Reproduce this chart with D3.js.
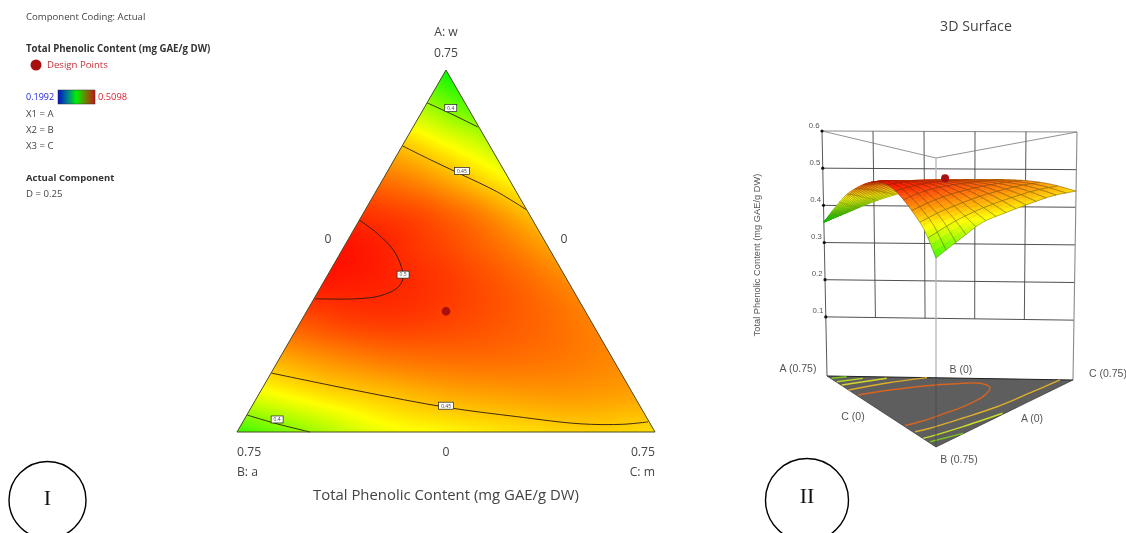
<!DOCTYPE html>
<html><head><meta charset="utf-8">
<script src="https://cdn.jsdelivr.net/npm/d3@7"></script>
<style>
html,body{margin:0;padding:0;background:#fff;overflow:hidden}
svg{display:block;filter:blur(.3px)}
text{font-family:"Open Sans",sans-serif;fill:#444}
.arial{font-family:"Liberation Sans",Arial,sans-serif;fill:#555}
.serif{font-family:"Liberation Serif",serif;fill:#111}
</style></head><body>
<svg id="chart" width="1126" height="533"></svg>
<script>
// ---------- data ----------
const rowA = [0,.075,.15,.225,.3,.375,.45,.525,.6,.675,.75];     // component A of each row
const colT = [0,1/6,2/6,3/6,4/6,5/6,1];                          // C/(B+C) across a row
const response = [                                               // Total Phenolic Content
 [.372,.399,.425,.434,.441,.446,.443],
 [.425,.440,.450,.458,.462,.464,.461],
 [.458,.468,.475,.478,.478,.475,.470],
 [.485,.492,.494,.491,.486,.480,.472],
 [.504,.503,.500,.495,.488,.480,.470],
 [.508,.504,.497,.491,.483,.474,.463],
 [.497,.494,.490,.483,.475,.464,.452],
 [.476,.472,.466,.459,.451,.442,.433],
 [.447,.442,.436,.430,.424,.418,.411],
 [.404,.400,.396,.392,.388,.385,.383],
 [.355,.355,.355,.355,.355,.355,.355]];
const colorLevels = [.1992,.354,.432,.5098];
const colorRange  = ["#0000ff","#00f800","#ffff00","#ff0a00"];
// contour lines as [A, C] composition pairs
const contours2D = [
 {level:"0.4", pts:[[.682,0],[.659,.055],[.632,.116]]},
 {level:"0.45",pts:[[.593,0],[.564,.065],[.533,.137],[.498,.217],[.461,.288]]},
 {level:"0.5", pts:[[.439,0],[.412,.045],[.377,.092],[.342,.124],[.318,.139],[.298,.138],[.282,.115],[.276,.077],[.276,.002]]},
 {level:"0.45",pts:[[.122,.001],[.085,.176],[.051,.351],[.032,.485],[.017,.607],[.016,.685],[.021,.727]]},
 {level:"0.4", pts:[[.035,.001],[.017,.063],[0,.131]]}];
const contourLabels = [["0.4",.671,.048],["0.45",.541,.133],["0.5",.326,.135],["0.45",.0545,.348],["0.4",.026,.059]];
const designPoint = {a:.25,b:.25,c:.25,z:.504};
// floor contours as [B, C] composition pairs
const floorContours = [
 {color:"#7cc420",pts:[[.024,.004],[.004,.058]]},
 {color:"#b6d822",pts:[[.060,.003],[.019,.101]]},
 {color:"#d6d62e",pts:[[.095,.003],[.014,.176]]},
 {color:"#dcae2a",pts:[[.148,0],[.065,.154],[0,.305]]},
 {color:"#d8641f",pts:[[.200,.007],[.141,.130],[.0875,.265],[.0605,.369],[.052,.443],[.094,.455],[.178,.403],[.290,.298],[.403,.166],[.479,.071],[.525,.005]]},
 {color:"#dcae2a",pts:[[.588,.008],[.548,.071],[.431,.224],[.303,.384],[.148,.553],[.002,.709]]},
 {color:"#c8dc28",pts:[[.658,.002],[.639,.031],[.525,.182],[.373,.370]]},
 {color:"#7cc420",pts:[[.694,.007],[.597,.150]]}];
const zTicks = [.1,.2,.3,.4,.5,.6];
const wallFractions = [.2,.4,.6,.8];
const legendLines = ["X1 = A","X2 = B","X3 = C"];
// ---------- scales ----------
const TOTAL=.75;
const color=d3.scaleLinear().domain(colorLevels).range(colorRange).clamp(true);
const xT=d3.scaleLinear([0,1],[237,655]);
const yT=d3.scaleLinear([0,TOTAL],[432,70]);
const px=(a,c)=>[xT((c+a/2)/TOTAL),yT(a)];
const rowIdx=d3.scaleLinear(rowA,rowA.map((_,i)=>i));
const colIdx=d3.scaleLinear(colT,colT.map((_,i)=>i));
function cr(p0,p1,p2,p3,u){return .5*(2*p1+(p2-p0)*u+(2*p0-5*p1+4*p2-p3)*u*u+(3*p1-p0-3*p2+p3)*u*u*u);}
function spline(vals,f){const n=vals.length-1;f=Math.max(0,Math.min(n,f));const i=Math.min(n-1,Math.floor(f));
 const g=k=>vals[Math.max(0,Math.min(n,k))];
 const p0=i>0?g(i-1):2*g(0)-g(1),p3=i<n-1?g(i+2):2*g(n)-g(n-1);
 return cr(p0,g(i),g(i+1),p3,f-i);}
function field(a,t){const ri=rowIdx(Math.max(0,Math.min(TOTAL,a))),ci=colIdx(Math.max(0,Math.min(1,t)));
 const row=d3.range(rowA.length).map(r=>spline(response[r],ci));
 return spline(row,ri);}
// ---------- page ----------
const svg=d3.select("#chart");
const defs=svg.append("defs");
// ---------- ternary heat map ----------
const cv=document.createElement("canvas");cv.width=440;cv.height=380;
const ctx=cv.getContext("2d"),img=ctx.createImageData(440,380);
for(let j=0;j<380;j++)for(let i=0;i<440;i++){
 const X=i+225.5,Y=j+60.5,a=yT.invert(Y),c=xT.invert(X)*TOTAL-a/2,b=TOTAL-a-c;
 if(a<-.02||b<-.03||c<-.03)continue;
 const s=Math.max(1e-6,b+c),t=Math.max(0,Math.min(1,c/s));
 const col=d3.rgb(color(field(a,t))),k=(j*440+i)*4;
 img.data[k]=col.r;img.data[k+1]=col.g;img.data[k+2]=col.b;img.data[k+3]=255;}
ctx.putImageData(img,0,0);
const tri=[px(TOTAL,0),px(0,0),px(0,TOTAL)];
defs.append("clipPath").attr("id","triClip").append("polygon").attr("points",tri.join(" "));
svg.append("image").attr("x",225).attr("y",60).attr("width",440).attr("height",380)
 .attr("href",cv.toDataURL()).attr("clip-path","url(#triClip)");
const line2D=d3.line(d=>px(d[0],d[1])[0],d=>px(d[0],d[1])[1]).curve(d3.curveCatmullRom);
svg.append("g").selectAll("path").data(contours2D).join("path")
 .attr("d",d=>line2D(d.pts)).attr("fill","none").attr("stroke","#2a1a10").attr("stroke-width",.9);
svg.append("polygon").attr("points",tri.join(" ")).attr("fill","none").attr("stroke","#4a4a20").attr("stroke-width",1);
const lab=svg.append("g").selectAll("g").data(contourLabels).join("g")
 .attr("transform",d=>`translate(${px(d[1],d[2])})`);
const labW=d=>d[0].length>3?15:12;
lab.append("rect").attr("x",d=>-labW(d)/2).attr("y",-3.5).attr("width",labW).attr("height",7)
 .attr("fill","#fff").attr("stroke","#222").attr("stroke-width",.7);
lab.append("text").attr("text-anchor","middle").attr("y",1.8).attr("font-size",5).text(d=>d[0]);
const dp=px(designPoint.a,designPoint.c);
svg.append("circle").attr("cx",dp[0]).attr("cy",dp[1]).attr("r",4.3).attr("fill","#a81010");
const T=(x,y,s,size,anchor="start",cls=null,weight=null,fill=null)=>{
 const e=svg.append("text").attr("x",x).attr("y",y).attr("font-size",size).attr("text-anchor",anchor).text(s);
 if(cls)e.attr("class",cls);if(weight)e.attr("font-weight",weight);if(fill)e.style("fill",fill);return e;};
const F=12.2;
T(446,36,"A: w",F,"middle");T(446,57,"0.75",F,"middle");
T(328,243,"0",F,"middle");T(564,243,"0",F,"middle");
T(237,456,"0.75",F);T(446,456,"0",F,"middle");T(655,456,"0.75",F,"end");
T(237,476,"B: a",F);T(655,476,"C: m",F,"end");
T(446,500,"Total Phenolic Content (mg GAE/g DW)",14.9,"middle");
// ---------- legend ----------
T(26,20,"Component Coding: Actual",9.6);
T(26,52,"Total Phenolic Content (mg GAE/g DW)",9.7,"start",null,700,"#333");
svg.append("circle").attr("cx",36).attr("cy",65).attr("r",5.5).attr("fill","#a81010");
T(47,68,"Design Points",9.6,"start",null,null,"#c0303a");
const grad=defs.append("linearGradient").attr("id","barGrad");
[[0,"#0010c8"],[.25,"#007c90"],[.5,"#00f000"],[.75,"#6e8000"],[1,"#c81414"]].forEach(s=>grad.append("stop").attr("offset",s[0]).attr("stop-color",s[1]));
svg.append("rect").attr("x",58).attr("y",90).attr("width",37).attr("height",14).attr("fill","url(#barGrad)").attr("stroke","#333").attr("stroke-width",.5);
T(26,100,colorLevels[0].toFixed(4),9,"start",null,null,"#2020e0");
T(98,100,colorLevels[3].toFixed(4),9.3,"start",null,null,"#e02030");
legendLines.forEach((s,i)=>T(26,117+16*i,s,9.6));
T(26,181,"Actual Component",9.5,"start",null,700,"#333");
T(26,197,"D = 0.25",9.6);
// ---------- 3D projection ----------
const floorC={A:[827,376],B:[936,447],C:[1073,380]},topC={A:[822,131],B:[936,158],C:[1077,132]};
const zS=d3.scaleLinear([-.059,.6],[0,1]);
function proj(a,b,c,z){const s=zS(z),p=[0,1].map(k=>{
  const f=(a*floorC.A[k]+b*floorC.B[k]+c*floorC.C[k])/TOTAL,u=(a*topC.A[k]+b*topC.B[k]+c*topC.C[k])/TOTAL;
  return f*(1-s)+u*s;});return p;}
const g3=svg.append("g");
const seg=(p,q,col,w)=>g3.append("line").attr("x1",p[0]).attr("y1",p[1]).attr("x2",q[0]).attr("y2",q[1]).attr("stroke",col).attr("stroke-width",w);
const AC=f=>[TOTAL*(1-f),0,TOTAL*f];
// wall
zTicks.forEach(z=>seg(proj(...AC(0),z),proj(...AC(1),z),z==.6?"#8a8a8a":"#3c3c3c",z==.6?1.1:.9));
wallFractions.forEach(f=>seg(proj(...AC(f),.1),proj(...AC(f),.6),"#444",.9));
seg(proj(...AC(0),-.059),proj(...AC(0),.6),"#444",.9);
seg(proj(...AC(1),-.059),proj(...AC(1),.6),"#8a8a8a",1.1);
seg(proj(TOTAL,0,0,.6),proj(0,TOTAL,0,.6),"#777",.8);
seg(proj(0,TOTAL,0,.6),proj(0,0,TOTAL,.6),"#777",.8);
seg(proj(0,TOTAL,0,-.059),proj(0,TOTAL,0,.6),"#bbb",1.4);
// floor
const fl=[proj(TOTAL,0,0,-.059),proj(0,TOTAL,0,-.059),proj(0,0,TOTAL,-.059)];
g3.append("polygon").attr("points",fl.join(" ")).attr("fill","#5e5e5e");
seg(fl[0],fl[2],"#222",1);seg(fl[0],fl[1],"#333",.7);seg(fl[1],fl[2],"#333",.7);
const floorLine=d3.line(d=>proj(TOTAL-d[0]-d[1],d[0],d[1],-.059)[0],d=>proj(TOTAL-d[0]-d[1],d[0],d[1],-.059)[1]).curve(d3.curveCatmullRom);
g3.selectAll("path.fc").data(floorContours).join("path").attr("class","fc").attr("d",d=>floorLine(d.pts))
 .attr("fill","none").attr("stroke",d=>d.color).attr("stroke-width",1.4);
seg(fl[1],[fl[1][0],fl[0][1]+1],"#444",.7);
// surface mesh
const N=14,S=3,cells=[];
const P=(ai,ti)=>{const a=TOTAL*ai,t=ti,c=(TOTAL-a)*t,b=TOTAL-a-c;return {a,b,c,t};};
for(let i=0;i<N;i++)for(let j=0;j<N;j++){const m=P((i+.5)/N,(j+.5)/N);cells.push({i,j,depth:m.b});}
cells.sort((p,q)=>p.depth-q.depth);
const vert=(u,v)=>{const m=P(u,v);const z=field(m.a,m.t);return proj(m.a,m.b,m.c,z);};
const gm=svg.append("g");
cells.forEach(cell=>{
 for(let p=0;p<S;p++)for(let q=0;q<S;q++){
  const u0=(cell.i+p/S)/N,u1=(cell.i+(p+1)/S)/N,v0=(cell.j+q/S)/N,v1=(cell.j+(q+1)/S)/N;
  const m=P((u0+u1)/2,(v0+v1)/2),col=color(field(m.a,m.t));
  gm.append("polygon").attr("points",[vert(u0,v0),vert(u0,v1),vert(u1,v1),vert(u1,v0)].join(" ")).attr("fill",col).attr("stroke",col).attr("stroke-width",.4);
 }
 const rim=[];
 for(let q=0;q<=S;q++)rim.push(vert(cell.i/N,(cell.j+q/S)/N));
 for(let q=1;q<=S;q++)rim.push(vert((cell.i+q/S)/N,(cell.j+1)/N));
 for(let q=1;q<=S;q++)rim.push(vert((cell.i+1)/N,(cell.j+1-q/S)/N));
 for(let q=1;q<S;q++)rim.push(vert((cell.i+1-q/S)/N,cell.j/N));
 gm.append("polygon").attr("points",rim.join(" ")).attr("fill","none").attr("stroke","#2e2a12").attr("stroke-width",.45).attr("stroke-opacity",.7);
});
const dp3=proj(designPoint.a,designPoint.b,designPoint.c,designPoint.z);
svg.append("circle").attr("cx",dp3[0]).attr("cy",dp3[1]).attr("r",4).attr("fill","#a81010");
// z axis
zTicks.forEach(z=>{const p=proj(...AC(0),z);
 svg.append("circle").attr("cx",p[0]).attr("cy",p[1]).attr("r",1.6).attr("fill","#111");
 T(p[0]-2.5,p[1]-3.5,z.toFixed(1),7.8,"end","arial");});
svg.append("text").attr("class","arial").attr("transform","translate(760,255) rotate(-90)").attr("text-anchor","middle").attr("font-size",9.3).text("Total Phenolic Content (mg GAE/g DW)");
const FL=10.5;
T(798,372,"A (0.75)",FL,"middle","arial");T(961,373,"B (0)",FL,"middle","arial");
T(1089,377,"C (0.75)",FL,"start","arial");T(853,420,"C (0)",FL,"middle","arial");
T(1032,422,"A (0)",FL,"middle","arial");T(959,463,"B (0.75)",FL,"middle","arial");
T(976,31,"3D Surface",14.2,"middle");
// panel marks
svg.append("ellipse").attr("cx",47.5).attr("cy",500).attr("rx",38.5).attr("ry",38.5).attr("fill","none").attr("stroke","#000").attr("stroke-width",1.4);
svg.append("ellipse").attr("cx",807).attr("cy",500).attr("rx",41.5).attr("ry",41.5).attr("fill","none").attr("stroke","#000").attr("stroke-width",1.4);
T(47.5,505,"I",22,"middle","serif");T(807,503,"II",22,"middle","serif");
</script>
</body></html>
